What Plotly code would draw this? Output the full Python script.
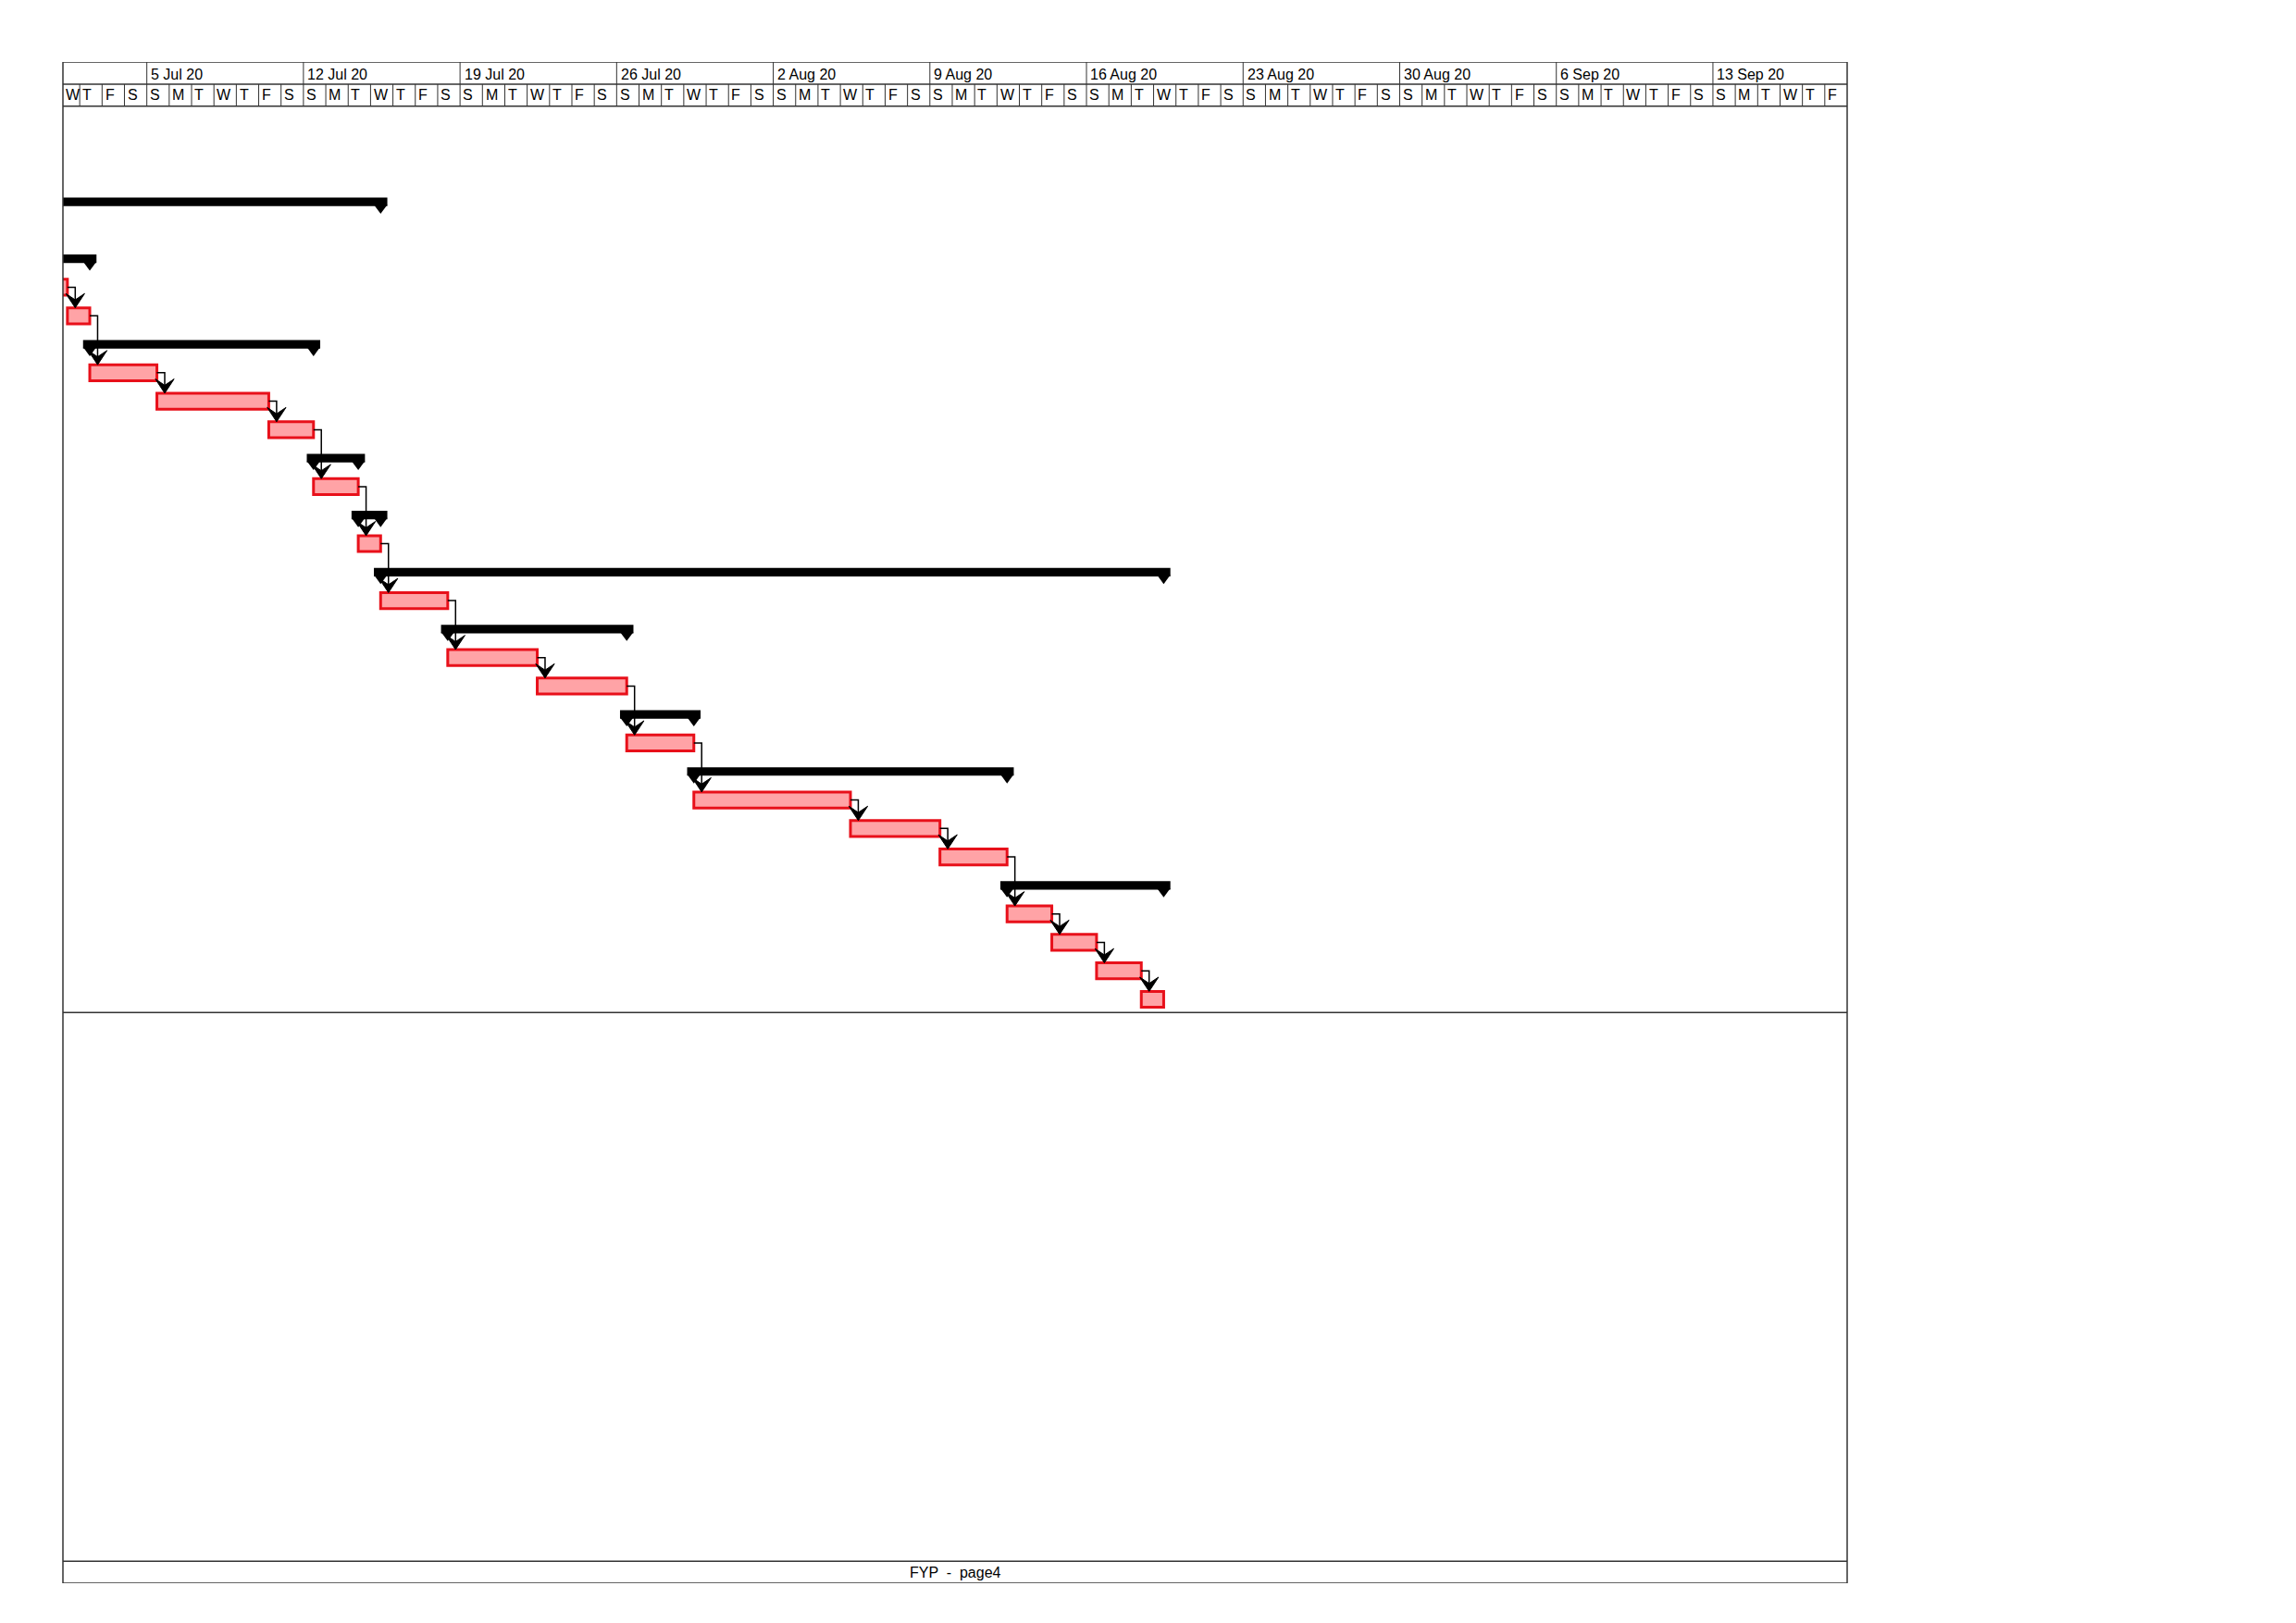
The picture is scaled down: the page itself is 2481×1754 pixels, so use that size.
import datetime as dt
import plotly.graph_objects as go

# Day 0 = Sunday 5 Jul 2020; rows counted from top of the task area
origin = dt.date(2020, 7, 5)
x_left, x_right = -3.75, 76

# Task bars (red)
task_rows = [3, 4, 6, 7, 8, 10, 12, 14, 16, 17, 19, 21, 22, 23, 25, 26, 27, 28]
task_start = [-4.55, -3.55, -2.55, 0.45, 5.45, 7.45, 9.45, 10.45, 13.45, 17.45,
              21.45, 24.45, 31.45, 35.45, 38.45, 40.45, 42.45, 44.45]
task_dur = [1, 1, 3, 5, 2, 2, 1, 3, 4, 4, 3, 7, 4, 3, 2, 2, 2, 1]

# Summary bars (black)
sum_rows = [0, 2, 5, 9, 11, 13, 15, 18, 20, 24]
sum_start = [-12, -6, -2.55, 7.45, 9.45, 10.45, 13.45, 21.45, 24.45, 38.45]
sum_end = [10.45, -2.55, 7.45, 9.45, 10.45, 45.45, 21.45, 24.45, 38.45, 45.45]

# Finish-to-start links (from row, to row)
links = [(3, 4), (4, 6), (6, 7), (7, 8), (8, 10), (10, 12), (12, 14), (14, 16), (16, 17),
         (17, 19), (19, 21), (21, 22), (22, 23), (23, 25), (25, 26), (26, 27), (27, 28)]

# Vertical layout in row units
y_top, y_hdr, y_body, y_low, y_foot, y_bot = -4.91, -4.13, -3.36, 28.46, 47.73, 48.5

font = "Liberation Sans, Arial, sans-serif"
task_end = {r: s + d for r, s, d in zip(task_rows, task_start, task_dur)}
task_begin = {r: s for r, s in zip(task_rows, task_start)}

fig = go.Figure()

fig.add_trace(go.Bar(
    y=sum_rows, base=[s - 0.3 for s in sum_start],
    x=[e - s + 0.6 for s, e in zip(sum_start, sum_end)],
    orientation="h", width=0.3, marker=dict(color="black", line=dict(width=0)),
    hoverinfo="skip",
))
fig.add_trace(go.Bar(
    y=task_rows, base=task_start, x=task_dur, orientation="h", width=0.56,
    marker=dict(color="#ffa3a6", line=dict(color="#e8101a", width=3)),
    hoverinfo="skip",
))

# link lines
lx, ly = [], []
for a, b in links:
    xa = task_end[a] + 0.35
    lx += [task_end[a], xa, xa, None]
    ly += [a, a, b - 0.3, None]
fig.add_trace(go.Scatter(x=lx, y=ly, mode="lines", line=dict(color="black", width=1.5),
                         hoverinfo="skip"))

shapes = []
# summary end triangles
for r, s, e in zip(sum_rows, sum_start, sum_end):
    for p in (s, e):
        shapes.append(dict(type="path", xref="x", yref="y", fillcolor="black",
                           line=dict(width=0),
                           path=f"M{p-0.3},{r+0.1} L{p+0.3},{r+0.1} L{p},{r+0.42} Z"))
# arrowheads
for a, b in links:
    xa = task_end[a] + 0.35
    yt = b - 0.28
    shapes.append(dict(type="path", xref="x", yref="y", fillcolor="black",
                       line=dict(color="black", width=1),
                       path=f"M{xa},{yt} L{xa-0.42},{yt-0.5} L{xa},{yt-0.28} L{xa+0.42},{yt-0.5} Z"))

# frame and horizontal rules
line = dict(color="#333333", width=1.5)
shapes.append(dict(type="rect", xref="paper", yref="y", x0=0, x1=1, y0=y_top, y1=y_bot, line=line))
for yy in (y_hdr, y_body, y_low, y_foot):
    shapes.append(dict(type="line", xref="paper", yref="y", x0=0, x1=1, y0=yy, y1=yy, line=line))

annotations = []
letters = "SMTWTFS"
for d in range(-4, 76):
    if d > x_left:
        shapes.append(dict(type="line", xref="x", yref="y", x0=d, x1=d, y0=y_hdr, y1=y_body,
                           line=dict(color="#333333", width=1)))
    annotations.append(dict(x=max(d, x_left) + 0.05, y=(y_hdr + y_body) / 2, xref="x", yref="y",
                            text=letters[d % 7], showarrow=False, xanchor="left",
                            font=dict(family=font, size=16, color="black")))
    if d % 7 == 0:
        shapes.append(dict(type="line", xref="x", yref="y", x0=d, x1=d, y0=y_top, y1=y_hdr,
                           line=dict(color="#333333", width=1)))
        day = origin + dt.timedelta(days=d)
        annotations.append(dict(x=d + 0.1, y=(y_top + y_hdr) / 2 + 0.05, xref="x", yref="y",
                                text=f"{day.day} {day.strftime('%b')} 20", showarrow=False,
                                xanchor="left", font=dict(family=font, size=16, color="black")))

annotations.append(dict(x=0.5, y=(y_foot + y_bot) / 2, xref="paper", yref="y", text="FYP  -  page4",
                        showarrow=False, font=dict(family=font, size=16, color="black")))

fig.update_layout(
    width=2481, height=1754, showlegend=False, barmode="overlay",
    plot_bgcolor="white", paper_bgcolor="white",
    margin=dict(l=60, r=493, t=59, b=51),
    xaxis=dict(range=[x_left, x_right], showgrid=False, zeroline=False, showticklabels=False,
               fixedrange=True),
    yaxis=dict(range=[y_bot, y_top], showgrid=False, zeroline=False, showticklabels=False,
               fixedrange=True),
    shapes=shapes, annotations=annotations,
)

fig.write_html("out.html")
